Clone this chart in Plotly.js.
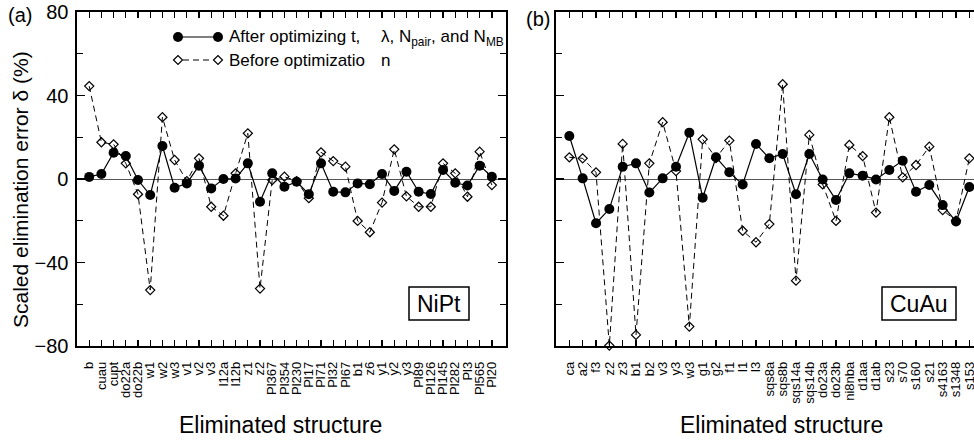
<!DOCTYPE html>
<html><head><meta charset="utf-8">
<script src="https://cdn.plot.ly/plotly-3.0.1.min.js"></script>
<style>html,body{margin:0;padding:0;overflow:hidden;background:#fff}</style>
</head><body><div id="chart" style="width:974px;height:440px"></div>
<script>
// ---- data ----
const catsA = ['b','cuau','cupt','do22a','do22b','w1','w2','w3','v1','v2','v3','l12a','l12b','z1','z2','Pl367','Pl354','Pl230','Pl17','Pl71','Pl32','Pl67','b1','z6','y1','y2','y3','Pl89','Pl126','Pl145','Pl282','Pl3','Pl565','Pl20'];
const afterA = [1, 2.4, 12.6, 11, -0.5, -7.7, 15.8, -4.2, -2.1, 6.4, -4.5, 0, 0.2, 7.5, -10.9, 2.7, -3.7, -1.3, -7.3, 7.5, -6.1, -6.4, -2.1, -2.5, 2.4, -5.7, 3.5, -6.1, -7.2, 4.3, -1.8, -3.1, 6.4, 1.1];
const beforeA = [44.5, 17.6, 16.6, 7.5, -7.3, -53.2, 29.6, 9.1, -1, 9.9, -13.3, -17.6, 2.7, 21.9, -52.5, -0.5, 1.1, -1, -9.2, 12.8, 8.6, 5.9, -20.1, -25.5, -11.3, 14.2, -8.3, -13.3, -13.3, 7.5, 2.7, -8.5, 13.1, -2.9];

const catsB = ['ca','a2','f3','z2','z3','b1','b2','v3','y3','w3','g1','g2','f1','l1','l3','sqs8a','sqs8b','sqs14a','sqs14b','do23a','do23b','ni8nba','d1aa','d1ab','s23','s70','s160','s21','s4163','s1348','s153'];
const afterB = [20.6, 0.3, -21.2, -14.4, 5.9, 7.5, -6.5, 0.3, 5.9, 22.2, -9.0, 10.4, 3.2, -2.6, 16.8, 9.9, 12.0, -7.3, 12.0, -0.2, -10.1, 2.7, 1.6, -0.2, 4.3, 8.8, -6.1, -2.9, -12.5, -20.4, -3.8];
const beforeB = [10.4, 9.9, 3.2, -79.8, 16.8, -74.7, 7.5, 27.2, 3.8, -70.7, 19.0, 10.0, 18.4, -24.8, -30.3, -21.6, 45.4, -48.7, 21.1, -2.6, -20.1, 16.3, 11.0, -16.1, 29.6, 0.8, 6.7, 15.5, -14.9, -20.0, 9.9];

const yTicks = [-80, -40, 0, 40, 80];
const yTickText = ['−80', '−40', '0', '40', '80'];
const yMinor = [-60, -20, 20, 60];
const afterLabel = 'After optimizing t,';
const afterLabel2 = 'λ, N<sub>pair</sub>, and N<sub>MB</sub>';
const beforeLabel = 'Before optimizatio';
const beforeLabel2 = 'n';
const xTitle = 'Eliminated structure';
const yTitle = 'Scaled elimination error δ (%)';

// ---- layout geometry ----
const W = 974, H = 440, L = 77, T = 12, PW = 897, PH = 334;
const px = x => (x - L) / PW;
const py = y => (T + PH - y) / PH;
const FONT = 'Liberation Sans, Arial, Helvetica, sans-serif';

const afterStyle = {mode: 'lines+markers', line: {color: '#000', width: 1.2},
  marker: {symbol: 'circle', size: 10, color: '#000'}, showlegend: false, cliponaxis: false};
const beforeStyle = {mode: 'lines+markers', line: {color: '#000', width: 1, dash: '6px,4px'},
  marker: {symbol: 'diamond-open', size: 7, color: '#000', line: {width: 1.2, color: '#000'}}, showlegend: false, cliponaxis: false};

const traces = [
  Object.assign({x: catsA, y: beforeA, xaxis: 'x', yaxis: 'y'}, beforeStyle),
  Object.assign({x: catsA, y: afterA, xaxis: 'x', yaxis: 'y'}, afterStyle),
  Object.assign({x: catsB, y: beforeB, xaxis: 'x2', yaxis: 'y2'}, beforeStyle),
  Object.assign({x: catsB, y: afterB, xaxis: 'x2', yaxis: 'y2'}, afterStyle)
];

function xAxis(cats, dom, rng, anchor) {
  return {type: 'category', domain: dom, range: rng, anchor: anchor,
    tickmode: 'array', tickvals: cats, ticktext: cats, tickangle: -90,
    ticks: 'inside', ticklen: 6, tickwidth: 1.3, tickcolor: '#000',
    showline: true, linecolor: '#000', linewidth: 1.6, mirror: 'ticks',
    showgrid: false, zeroline: false, ticklabelstandoff: 9,
    tickfont: {family: FONT, size: 13, color: '#000'}};
}
function yAxis(anchor, labels, mirror) {
  const ax = {range: [-80, 80], anchor: anchor, domain: [0, 1],
    tickmode: 'array', tickvals: yTicks,
    showticklabels: labels,
    ticks: 'inside', ticklen: 8, tickwidth: 1.3, tickcolor: '#000',
    minor: {tickmode: 'array', tickvals: yMinor, ticks: 'inside', ticklen: 6, tickwidth: 1.3, tickcolor: '#000', showgrid: false},
    showline: true, linecolor: '#000', linewidth: 1.6, mirror: mirror,
    showgrid: false, zeroline: true, zerolinecolor: '#555', zerolinewidth: 1,
    ticklabelstandoff: 3,
    tickfont: {family: FONT, size: 20, color: '#000'}};
  if (labels) ax.ticktext = yTickText;
  return ax;
}

const shapes = [];
const annotations = [];
// legend samples
shapes.push({type: 'line', xref: 'paper', yref: 'paper', x0: px(178), x1: px(218), y0: py(37), y1: py(37), line: {color: '#000', width: 1.2}});
[178, 218].forEach(cx => shapes.push({type: 'circle', xref: 'paper', yref: 'paper', x0: px(cx - 5), x1: px(cx + 5), y0: py(42), y1: py(32), fillcolor: '#000', line: {color: '#000', width: 0}}));
shapes.push({type: 'line', xref: 'paper', yref: 'paper', x0: px(183), x1: px(213), y0: py(60), y1: py(60), line: {color: '#000', width: 1, dash: '6px,4px'}});
[178, 218].forEach(cx => shapes.push({type: 'path', xref: 'paper', yref: 'paper',
  path: `M ${px(cx - 4.5)} ${py(60)} L ${px(cx)} ${py(55.5)} L ${px(cx + 4.5)} ${py(60)} L ${px(cx)} ${py(64.5)} Z`,
  fillcolor: 'rgba(0,0,0,0)', line: {color: '#000', width: 1.2}}));
// label boxes
shapes.push({type: 'rect', xref: 'paper', yref: 'paper', x0: px(409), x1: px(469), y0: py(320), y1: py(287), line: {color: '#000', width: 1.5}});
shapes.push({type: 'rect', xref: 'paper', yref: 'paper', x0: px(882), x1: px(956), y0: py(320), y1: py(287), line: {color: '#000', width: 1.5}});

function ann(text, x, y, size, xanchor, extra) {
  return Object.assign({text: text, xref: 'paper', yref: 'paper', x: px(x), y: py(y), xanchor: xanchor || 'center', yanchor: 'middle',
    showarrow: false, font: {family: FONT, size: size, color: '#000'}}, extra || {});
}
annotations.push(ann(afterLabel, 227, 37, 17, 'left'));
annotations.push(ann(afterLabel2, 379, 38, 17, 'left'));
annotations.push(ann(beforeLabel, 227, 60, 17, 'left'));
annotations.push(ann(beforeLabel2, 379, 60, 17, 'left'));
annotations.push(ann('NiPt', 439, 304, 23));
annotations.push(ann('CuAu', 919, 304, 23));
annotations.push(ann('(a)', 20, 15, 20));
annotations.push(ann('(b)', 538, 19, 20));
annotations.push(ann(xTitle, 280, 425, 23));
annotations.push(ann(xTitle, 781, 425, 23));
annotations.push(ann(yTitle, 20, 190, 21, 'center', {textangle: -90}));

const layout = {
  width: W, height: H, margin: {l: L, r: 0, t: T, b: H - T - PH},
  paper_bgcolor: '#fff', plot_bgcolor: '#fff', showlegend: false,
  font: {family: FONT, color: '#000'},
  xaxis: xAxis(catsA, [0, px(506)], [-1, 34.16], 'y'),
  yaxis: yAxis('x', true, 'ticks'),
  xaxis2: xAxis(catsB, [px(556), 1], [-1, 30.35], 'y2'),
  yaxis2: yAxis('x2', false, false),
  shapes: shapes, annotations: annotations
};
Plotly.newPlot('chart', traces, layout, {staticPlot: true, displayModeBar: false}).then(gd => {
  // drop the empty placeholder title nodes Plotly leaves for untitled axes
  gd.querySelectorAll('text').forEach(t => { if (!t.textContent.trim()) t.remove(); });
});
</script></body></html>
